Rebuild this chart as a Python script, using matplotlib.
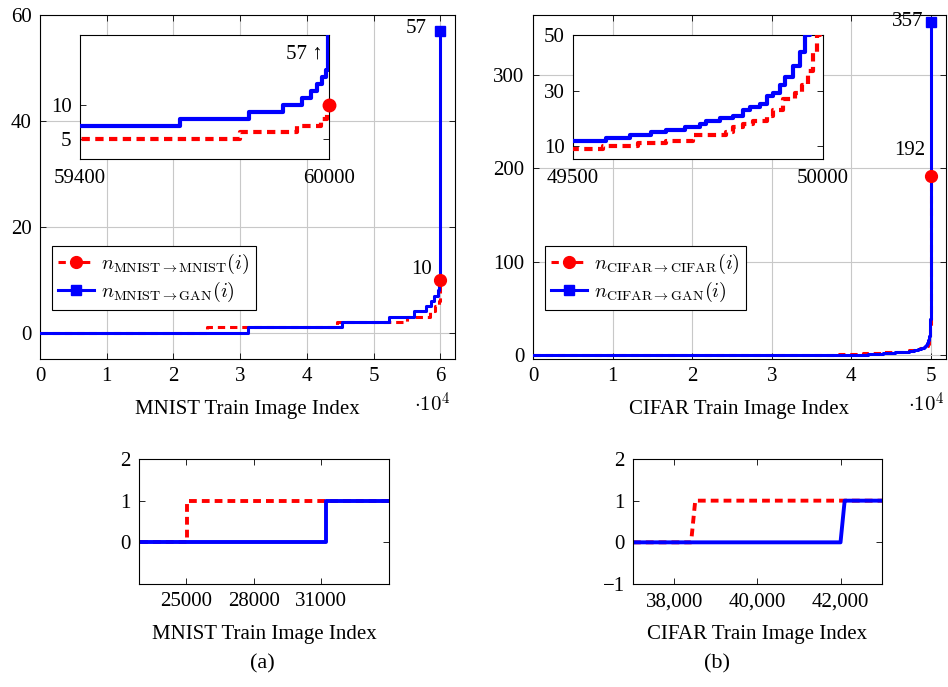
import matplotlib
matplotlib.use("Agg")
import matplotlib.pyplot as plt
from matplotlib.lines import Line2D
from matplotlib.ticker import FuncFormatter

# step change points (index, count)
mnist_self_x = [0, 25050, 44500, 55000, 58400, 59200, 59786, 59923, 59981, 59996, 60000]
mnist_self_y = [0, 1, 2, 3, 4, 5, 6, 7, 8, 9, 10]
mnist_gan_x = [0, 31200, 45200, 52300, 56000, 57800, 58600, 59100, 59641, 59807, 59889,
               59935, 59957, 59971, 59982, 59992, 59997, 59999, 60000]
mnist_gan_y = [0, 1, 2, 3, 4, 5, 6, 7, 8, 9, 10, 11, 12, 13, 14, 15, 20, 30, 57]

cifar_self_x = [0, 38450, 41500, 44000, 45500, 46500, 47300, 48000, 48600, 49200, 49560,
                49630, 49687, 49741, 49807, 49821, 49841, 49861, 49888, 49901, 49921,
                49944, 49958, 49971, 49981, 49988, 49994, 49998, 50000]
cifar_self_y = [0, 1, 2, 3, 4, 5, 6, 7, 8, 9, 10, 11, 12, 14, 15, 17, 18, 19, 21, 23, 27,
                29, 32, 37, 44, 50, 80, 130, 192]
cifar_gan_x = [0, 42050, 44000, 45500, 46500, 47300, 47900, 48400, 48800, 49100, 49300,
               49420, 49470, 49567, 49614, 49657, 49687, 49724, 49754, 49767, 49794, 49821,
               49841, 49854, 49874, 49888, 49901, 49914, 49924, 49941, 49955, 49965, 49975,
               49985, 49993, 49998, 50000]
cifar_gan_y = [0, 1, 2, 3, 4, 5, 6, 7, 8, 9, 10, 11, 12, 13, 14, 15, 16, 17, 18, 19, 20,
               21, 23, 24, 25, 28, 29, 32, 35, 39, 44, 50, 70, 110, 180, 260, 357]

# zoomed CIFAR panel (b)
cifar_zoom_self_x = [37000, 38400, 38500, 43000]
cifar_zoom_self_y = [0, 0, 1, 1]
cifar_zoom_gan_x = [37000, 42000, 42100, 43000]
cifar_zoom_gan_y = [0, 0, 1, 1]

RED = '#ff0000'
BLUE = '#0000ff'
DASH = (2.4, 1.6)

plt.rcParams.update({
    'font.family': ['Liberation Serif', 'DejaVu Serif'],
    'mathtext.fontset': 'cm',
    'font.size': 15,
    'axes.linewidth': 0.8,
    'xtick.direction': 'in', 'ytick.direction': 'in',
    'xtick.top': True, 'ytick.right': True,
    'xtick.major.size': 4, 'ytick.major.size': 4,
    'xtick.major.width': 0.6, 'ytick.major.width': 0.6,
    'xtick.major.pad': 6, 'ytick.major.pad': 6,
})

fig = plt.figure(figsize=(9.48, 6.87), dpi=100)


def main_panel(rect, sx, sy, gx, gy, xmax, ylim, yticks, xlabel, labels, ann):
    ax = fig.add_axes(rect)
    ax.step(sx, sy, where='post', color=RED, lw=2.2, dashes=DASH, zorder=3)
    ax.step(gx, gy, where='post', color=BLUE, lw=2.2, zorder=4)
    ax.plot(sx[-1], sy[-1], 'o', color=RED, ms=8.5, zorder=5)
    ax.plot(gx[-1], gy[-1], 's', color=BLUE, ms=6.5, zorder=5)
    ax.set_xlim(0, xmax)
    ax.set_ylim(*ylim)
    ax.set_xticks(range(0, int(xmax) + 1, 10000))
    ax.xaxis.set_major_formatter(FuncFormatter(lambda v, p: f'{v / 10000:g}'))
    ax.set_yticks(yticks)
    ax.grid(True, color='#c8c8c8', lw=0.8)
    ax.set_xlabel(xlabel, labelpad=10)
    handles = [Line2D([], [], color=RED, lw=2.2, dashes=DASH, marker='o', ms=8.5),
               Line2D([], [], color=BLUE, lw=2.2, marker='s', ms=6.5)]
    leg = ax.legend(handles, labels, loc='upper left', bbox_to_anchor=(0.029, 0.329),
                    borderaxespad=0, fancybox=False, edgecolor='black', framealpha=1,
                    fontsize=14.5, handlelength=1.8, handletextpad=0.35,
                    borderpad=0.3, labelspacing=0.2)
    leg.get_frame().set_linewidth(0.8)
    for txt, x, y in ann:
        ax.text(x, y, txt, ha='right', va='center', fontsize=15)
    return ax


def inset_panel(rect, sx, sy, gx, gy, xlim, ylim, yticks):
    ax = fig.add_axes(rect)
    ax.step(sx, sy, where='post', color=RED, lw=3, dashes=(2.0, 1.3), zorder=3)
    ax.step(gx, gy, where='post', color=BLUE, lw=3, zorder=4)
    ax.set_xlim(*xlim)
    ax.set_ylim(*ylim)
    ax.set_xticks(xlim)
    ax.set_yticks(yticks)
    ax.tick_params(axis='x', length=0, pad=7)
    return ax


ax1 = main_panel([0.0422, 0.4774, 0.4378, 0.5007], mnist_self_x, mnist_self_y,
                 mnist_gan_x, mnist_gan_y, 62200, (-5, 60), [0, 20, 40, 60],
                 'MNIST Train Image Index',
                 [r'$n_{\mathrm{MNIST}\to\mathrm{MNIST}}(i)$', r'$n_{\mathrm{MNIST}\to\mathrm{GAN}}(i)$'],
                 [('57', 58000, 57.5), ('10', 58700, 12.0)])
ax2 = main_panel([0.5622, 0.4774, 0.4357, 0.5007], cifar_self_x, cifar_self_y,
                 cifar_gan_x, cifar_gan_y, 51900, (-4, 364), [0, 100, 200, 300],
                 'CIFAR Train Image Index',
                 [r'$n_{\mathrm{CIFAR}\to\mathrm{CIFAR}}(i)$', r'$n_{\mathrm{CIFAR}\to\mathrm{GAN}}(i)$'],
                 [('357', 49100, 357), ('192', 49250, 219)])

in1 = inset_panel([0.0844, 0.7686, 0.2627, 0.1805], mnist_self_x, mnist_self_y,
                  mnist_gan_x, mnist_gan_y, (59400, 60000), (2.2, 20), [5, 10])
in1.plot(mnist_self_x[-1], mnist_self_y[-1], 'o', color=RED, ms=9, zorder=5, clip_on=False)
in1.text(59985, 17.2, '57 ↑', ha='right', va='center', fontsize=15)
in2 = inset_panel([0.6044, 0.7686, 0.2637, 0.1805], cifar_self_x, cifar_self_y,
                  cifar_gan_x, cifar_gan_y, (49500, 50000), (5.4, 50), [10, 30, 50])

fig.text(0.4747, 0.4, r'$\cdot 10^4$', ha='right', va='baseline', fontsize=15)
fig.text(0.9968, 0.4, r'$\cdot 10^4$', ha='right', va='baseline', fontsize=15)

# bottom zoomed panels
axa = fig.add_axes([0.1466, 0.1499, 0.2637, 0.182])
axa.step(mnist_self_x, mnist_self_y, where='post', color=RED, lw=2.8, dashes=(2.0, 1.3))
axa.step(mnist_gan_x, mnist_gan_y, where='post', color=BLUE, lw=2.8)
axa.set_xlim(22900, 34000)
axa.set_ylim(-1, 2)
axa.set_xticks([25000, 28000, 31000])
axa.set_yticks([0, 1, 2])
axa.set_xlabel('MNIST Train Image Index', labelpad=10)

axb = fig.add_axes([0.6677, 0.1499, 0.2627, 0.182])
axb.plot(cifar_zoom_self_x, cifar_zoom_self_y, color=RED, lw=2.8, dashes=(2.0, 1.3))
axb.plot(cifar_zoom_gan_x, cifar_zoom_gan_y, color=BLUE, lw=2.8)
axb.set_xlim(37000, 43000)
axb.set_ylim(-1, 2)
axb.set_xticks([38000, 40000, 42000])
axb.xaxis.set_major_formatter(FuncFormatter(lambda v, p: f'{v:,.0f}'))
axb.set_yticks([-1, 0, 1, 2])
axb.set_xlabel('CIFAR Train Image Index', labelpad=10)

fig.text(0.2764, 0.02, '(a)', ha='center', va='bottom', fontsize=16)
fig.text(0.7563, 0.02, '(b)', ha='center', va='bottom', fontsize=16)

fig.savefig('out.png', dpi=100)
